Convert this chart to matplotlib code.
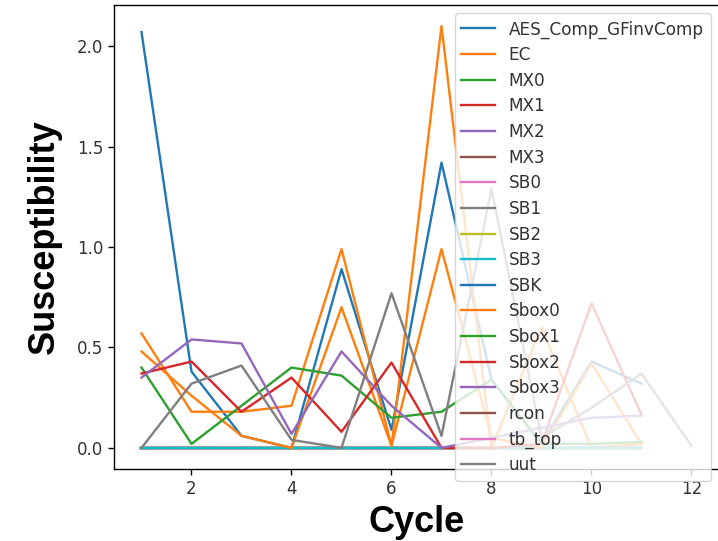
import matplotlib
matplotlib.use("Agg")
import matplotlib.pyplot as plt
import numpy as np

cycles = list(range(1, 13))

names = ["AES_Comp_GFinvComp", "EC", "MX0", "MX1", "MX2", "MX3", "SB0", "SB1",
         "SB2", "SB3", "SBK", "Sbox0", "Sbox1", "Sbox2", "Sbox3", "rcon",
         "tb_top", "uut"]

nan = np.nan
zeros = [0.0] * 11
empty = [nan] * 11

aes = [2.07, 0.38, 0.06, 0.00, 0.89, 0.09, 1.42, 0.34, 0.02, 0.43, 0.32]
ec = [0.57, 0.18, 0.18, 0.21, 0.99, 0.01, 2.10, 0.00, 0.60, 0.00, 0.02]
sbox0 = [0.48, 0.26, 0.06, 0.00, 0.70, 0.01, 0.99, 0.05, 0.00, 0.42, 0.02]
sbox1 = [0.40, 0.02, 0.21, 0.40, 0.36, 0.15, 0.18, 0.34, 0.02, 0.02, 0.03]
sbox2 = [0.37, 0.43, 0.18, 0.35, 0.08, 0.425, 0.00, 0.00, 0.02, 0.72, 0.165]
sbox3 = [0.35, 0.54, 0.52, 0.07, 0.48, 0.21, 0.00, 0.05, 0.10, 0.15, 0.16]
uut = [0.00, 0.32, 0.41, 0.04, 0.00, 0.77, 0.06, 1.29, 0.05, 0.20, 0.37, 0.01]

series = [aes, ec, zeros, zeros, zeros, zeros, zeros, zeros, zeros, zeros,
          empty, sbox0, sbox1, sbox2, sbox3, empty, empty, uut]

fig = plt.figure(figsize=(7.18, 5.41), dpi=100)
ax = fig.add_axes([114 / 718, 72 / 541, 605 / 718, 464 / 541])

for name, vals in zip(names, series):
    ax.plot(cycles[:len(vals)], vals, label=name, linewidth=1.7)

ax.set_xticks([2, 4, 6, 8, 10, 12])
ax.set_yticks([0.0, 0.5, 1.0, 1.5, 2.0])
ax.tick_params(labelsize=12, labelcolor="#333333", length=4.2, width=1.0)
for sp in ax.spines.values():
    sp.set_linewidth(1.0)

ax.set_xlabel("Cycle", fontsize=26, fontweight="bold",
              family="Liberation Sans", labelpad=5)
ax.set_ylabel("Susceptibility", fontsize=26, fontweight="bold",
              family="Liberation Sans", labelpad=11)

leg = ax.legend(loc="upper right", fontsize=12.2, labelspacing=0.45)
for t in leg.get_texts():
    t.set_color("#333333")

fig.savefig("out.png", dpi=100)
